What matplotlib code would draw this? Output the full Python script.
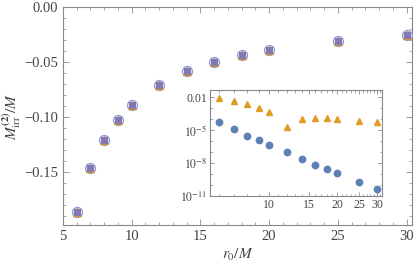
import matplotlib
matplotlib.use("Agg")
import matplotlib.pyplot as plt
import numpy as np
from matplotlib.ticker import MultipleLocator, FixedLocator, FuncFormatter, NullFormatter

plt.rcParams['font.family'] = ['Liberation Serif', 'DejaVu Serif']
plt.rcParams['mathtext.fontset'] = 'stix'

r0 = [6, 7, 8, 9, 10, 12, 14, 16, 18, 20, 25, 30]
m_irr = [-0.186, -0.146, -0.121, -0.103, -0.089, -0.071, -0.058, -0.050, -0.044, -0.039, -0.031, -0.025]
log_err_circ = [-4.27, -4.9, -5.5, -5.9, -6.35, -7.0, -7.6, -8.15, -8.55, -8.9, -9.75, -10.4]
log_err_tri = [-2.05, -2.37, -2.67, -3.0, -3.35, -4.7, -4.0, -3.93, -3.9, -4.0, -4.15, -4.3]

blue = '#5E81B5'
orange = '#E19C24'
purple = '#8778B3'
lightblue = '#7F9FDA'
gray = '#888888'
txt = '#444444'

fig = plt.figure(figsize=(4.15, 2.67), dpi=100)
ax = fig.add_axes([63/415, 1-225/267, 349/415, 218/267])

ax.plot(r0, m_irr, 'o', ms=7.3, mfc='none', mec=lightblue, mew=0.8, zorder=3)
ax.plot(r0, m_irr, '^', ms=5.2, color=orange, mec=orange, zorder=4)
ax.plot(r0, m_irr, 's', ms=4.0, color=purple, mec=purple, zorder=5)

ax.set_xlim(5, 30.4)
ax.set_ylim(-0.198, 0.0)
ax.xaxis.set_major_locator(FixedLocator([5, 10, 15, 20, 25, 30]))
ax.xaxis.set_minor_locator(MultipleLocator(1))
ax.yaxis.set_major_locator(FixedLocator([-0.15, -0.10, -0.05, 0.0]))
ax.yaxis.set_minor_locator(MultipleLocator(0.01))
ax.yaxis.set_major_formatter(FuncFormatter(lambda v, p: ('%.2f' % v).replace('-', '\u2212') if abs(v) > 1e-9 else '0.00'))

for s in ax.spines.values():
    s.set_color(gray)
    s.set_linewidth(0.8)
ax.tick_params(which='both', direction='in', top=True, right=True, color=gray, labelcolor=txt, labelsize=10.5)
ax.tick_params(which='major', length=4, width=0.6)
ax.tick_params(which='minor', length=2.2, width=0.5)

ax.set_xlabel(r'$r_0/M$', fontsize=11, color=txt, labelpad=3)
ax.set_ylabel(r'$M_{\rm irr}^{\mathbf{(2)}}/M$', fontsize=11, color=txt)
ax.yaxis.set_label_coords(-0.115, 0.5)

# inset
ins = fig.add_axes([210/415, 1-196/267, 172/415, 106/267])
ins.plot(r0, log_err_tri, '^', ms=5.0, color=orange, mec=orange)
ins.plot(r0, log_err_circ, 'o', ms=4.6, color=blue, mec=blue)
ins.set_xscale('log')
ins.set_xlim(5.48, 31.6)
ins.set_ylim(-11.0, -1.36)
ins.xaxis.set_major_locator(FixedLocator([10, 15, 20, 25, 30]))
ins.xaxis.set_major_formatter(FuncFormatter(lambda v, p: '%d' % v))
ins.xaxis.set_minor_locator(FixedLocator([6, 7, 8, 9] + list(range(11, 32))))
ins.xaxis.set_minor_formatter(NullFormatter())
ins.yaxis.set_major_locator(FixedLocator([-11, -8, -5, -2]))
ins.yaxis.set_minor_locator(FixedLocator([-10, -9, -7, -6, -4, -3]))
labels = {-2: '0.01', -5: r'$10^{-5}$', -8: r'$10^{-8}$', -11: r'$10^{-11}$'}
ins.yaxis.set_major_formatter(FuncFormatter(lambda v, p: labels.get(int(round(v)), '')))
for s in ins.spines.values():
    s.set_color(gray)
    s.set_linewidth(0.8)
ins.tick_params(which='both', direction='in', top=True, right=True, color=gray, labelcolor=txt, labelsize=8.5, pad=2)
ins.tick_params(which='major', length=3, width=0.6)
ins.tick_params(which='minor', length=1.8, width=0.5)

fig.savefig('out.png', dpi=100)
